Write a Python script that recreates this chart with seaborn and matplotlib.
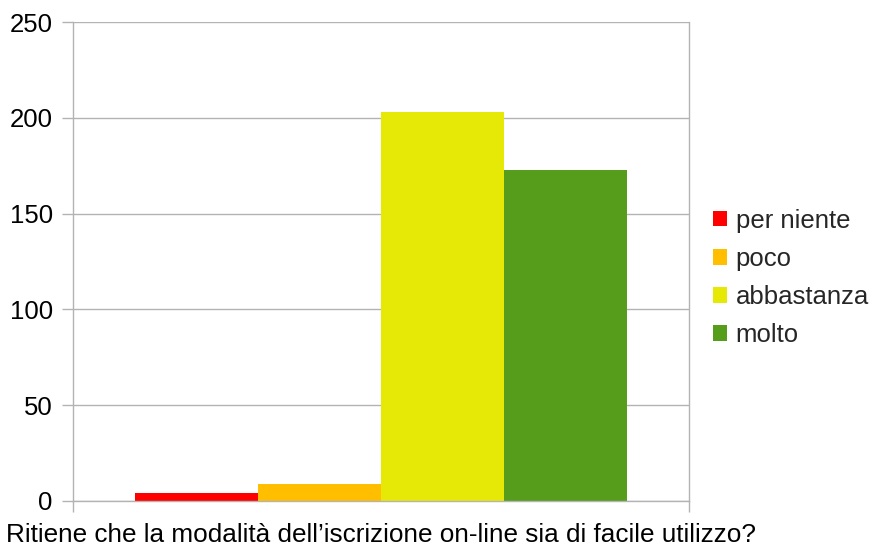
import matplotlib
matplotlib.use("Agg")
import matplotlib.pyplot as plt
import seaborn as sns
import pandas as pd

# Data
question = "Ritiene che la modalità dell’iscrizione on-line sia di facile utilizzo?"
answers = ["per niente", "poco", "abbastanza", "molto"]
counts = [4, 9, 203, 173]
colors = ["#ff0000", "#ffbf00", "#e6e905", "#579d1c"]

df = pd.DataFrame({"domanda": [question] * len(answers), "risposta": answers, "n": counts})

sns.set_theme(style="white")
plt.rcParams['font.family'] = ['Liberation Sans', 'DejaVu Sans']
fs = 18.5

fig = plt.figure(figsize=(8.76, 5.47), dpi=100)
ax = fig.add_axes([73 / 876, 46 / 547, 616 / 876, 479 / 547])

sns.barplot(data=df, x="domanda", y="n", hue="risposta", hue_order=answers,
            palette=colors, width=0.8, saturation=1, ax=ax, legend=True)
for p in ax.patches:
    p.set_edgecolor("none")

ax.set_xlim(-0.5, 0.5)
ax.set_ylim(0, 250)
ax.set_yticks([0, 50, 100, 150, 200, 250])
ax.yaxis.grid(True, color="#b3b3b3", linewidth=1)
ax.set_axisbelow(True)
ax.set_xlabel("")
ax.set_ylabel("")

grey = "#b3b3b3"
for side in ["left", "bottom", "right"]:
    ax.spines[side].set_visible(True)
    ax.spines[side].set_color(grey)
    ax.spines[side].set_linewidth(1)
ax.spines["top"].set_visible(False)

ax.tick_params(axis="y", left=True, length=8, width=1, color=grey, pad=6.5, labelsize=fs, labelcolor="black")
ax.set_xticks([0])
ax.set_xticklabels([question])
ax.tick_params(axis="x", which="major", bottom=True, length=0, pad=16, labelsize=18.8, labelcolor="black")
ax.set_xticks([-0.5, 0.5], minor=True)
ax.tick_params(axis="x", which="minor", bottom=True, length=8, width=1, color=grey)

handles, labels = ax.get_legend_handles_labels()
ax.legend(handles, labels, loc="center left", bbox_to_anchor=(713 / 876, 269 / 547),
          bbox_transform=fig.transFigure, frameon=False, fontsize=fs,
          handlelength=0.55, handleheight=0.55, handletextpad=0.33, labelspacing=0.55,
          borderpad=0, borderaxespad=0)

fig.savefig("out.png", dpi=100)
